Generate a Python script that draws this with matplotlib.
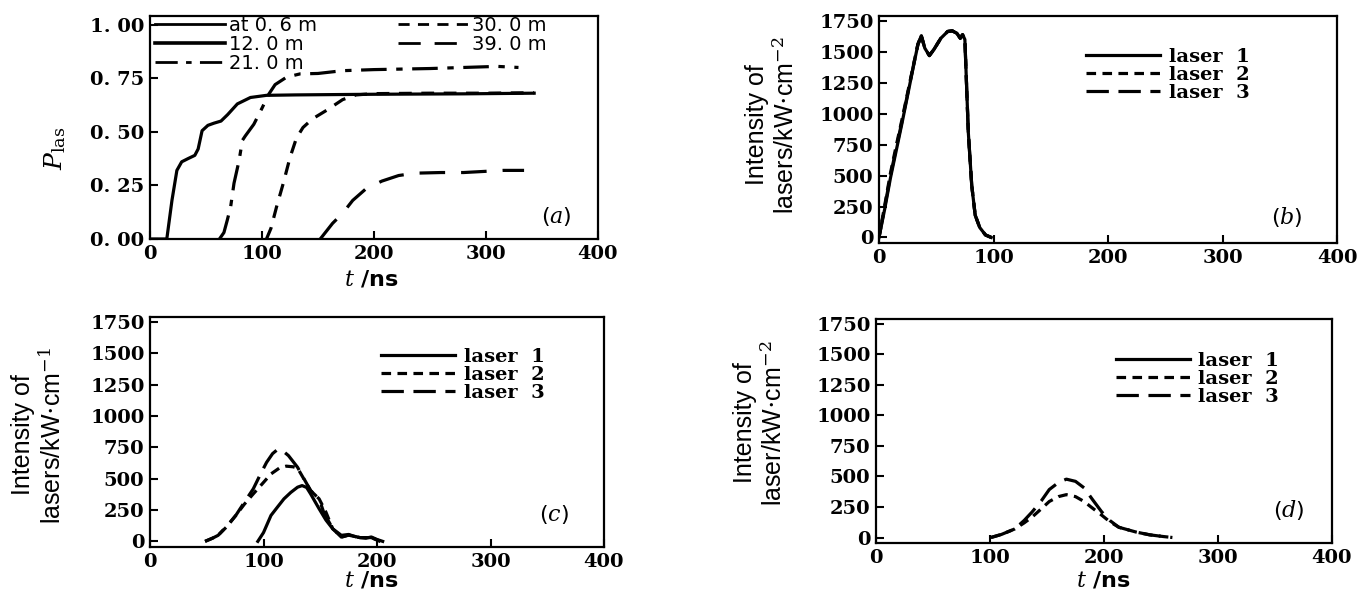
import matplotlib
matplotlib.use("Agg")
import matplotlib.pyplot as plt
from matplotlib.lines import Line2D

plt.rcParams["mathtext.fontset"] = "dejavuserif"

# ---- panel (a): P vs t for several distances ----
t_06 = [0, 15, 19.6, 24, 28.3, 34, 40, 43, 46.5, 51.7, 57, 63.4, 69.3, 78, 89.7, 104, 130, 200, 280, 343]
p_06 = [0, 0, 0.18, 0.32, 0.36, 0.375, 0.39, 0.42, 0.505, 0.53, 0.54, 0.55, 0.58, 0.63, 0.66, 0.67, 0.672, 0.675, 0.677, 0.68]

t_21 = [62, 66, 69, 72, 75, 79.5, 82.5, 85, 92.7, 100, 106, 111.7, 122, 134, 150, 172, 200, 250, 310, 329]
p_21 = [0, 0.03, 0.088, 0.15, 0.26, 0.365, 0.46, 0.48, 0.535, 0.61, 0.675, 0.72, 0.755, 0.77, 0.772, 0.785, 0.79, 0.795, 0.805, 0.8]

t_30 = [104, 108, 113, 119, 125, 130.7, 136.6, 145, 157.6, 172, 184, 200, 250, 300, 343]
p_30 = [0, 0.05, 0.15, 0.26, 0.38, 0.47, 0.52, 0.56, 0.6, 0.65, 0.672, 0.678, 0.68, 0.68, 0.682]

t_39 = [152, 163, 172, 181, 193, 207, 222, 236.6, 260, 280, 315.5, 334]
p_39 = [0, 0.073, 0.12, 0.18, 0.235, 0.27, 0.296, 0.307, 0.31, 0.31, 0.32, 0.32]

p_ticks = [0, 0.25, 0.5, 0.75, 1.0]
p_ticklabels = ["0. 00", "0. 25", "0. 50", "0. 75", "1. 00"]
dist_labels = ["at 0. 6 m", "12. 0 m", "21. 0 m", "30. 0 m", "39. 0 m"]

# ---- panel (b) ----
tb = [0, 5, 10, 15, 20, 25, 30, 34, 37, 40, 44, 48, 54, 60, 64, 68, 71, 73, 75, 76, 78, 81, 84, 88, 93, 98]
b_l1 = [0, 230, 480, 700, 920, 1150, 1380, 1560, 1630, 1530, 1470, 1520, 1610, 1665, 1670, 1650, 1610, 1640, 1600, 1350, 850, 420, 180, 80, 20, 0]
b_l2 = [0, 260, 520, 740, 950, 1170, 1390, 1565, 1630, 1530, 1470, 1520, 1610, 1665, 1670, 1650, 1610, 1640, 1600, 1350, 850, 420, 180, 80, 20, 0]
b_l3 = [0, 245, 500, 720, 935, 1160, 1385, 1560, 1628, 1530, 1470, 1520, 1610, 1665, 1670, 1650, 1610, 1640, 1600, 1350, 850, 420, 180, 80, 20, 0]

# ---- panel (c) ----
tc1 = [95, 100, 106.6, 112, 118, 124, 130, 134, 138, 141.5, 149, 155, 161, 168.6, 175, 180, 185, 190, 195, 200, 205]
c_l1 = [0, 70, 207, 270, 339, 390, 432, 445, 430, 379, 260, 170, 100, 48, 55, 40, 30, 25, 35, 15, 0]
tc2 = [48.5, 55, 60, 68, 75.6, 83, 91, 99, 106.6, 114, 120, 126, 130, 141.5, 149, 155, 161, 168.6, 175, 185, 195, 203]
c_l2 = [0, 25, 48, 120, 207, 295, 379, 460, 538, 585, 600, 595, 585, 405, 339, 233, 100, 34, 50, 30, 30, 0]
tc3 = [48.5, 55, 60, 68, 75.6, 83, 91, 97, 102.7, 108, 112, 117, 122, 130, 141.5, 149, 153, 161, 168.6, 175, 185, 195, 203]
c_l3 = [0, 25, 48, 125, 207, 310, 419, 530, 630, 700, 730, 722, 684, 591, 405, 339, 233, 100, 34, 50, 30, 30, 0]

# ---- panel (d) ---- (laser 1 stays on the baseline, nothing visible)
td1 = []
d_l1 = []
td = [100.8, 110, 121.7, 130, 137, 145, 152, 160, 167, 175, 182.5, 190, 198, 205, 213, 228, 240, 252, 260]
d_l2 = [0, 25, 70, 120, 168, 235, 295, 335, 351, 335, 295, 240, 183, 130, 84, 45, 22, 8, 0]
d_l3 = [0, 25, 70, 140, 210, 300, 393, 450, 478, 460, 407, 310, 210, 140, 84, 45, 22, 8, 0]

i_ticks = [0, 250, 500, 750, 1000, 1250, 1500, 1750]
t_ticks = [0, 100, 200, 300, 400]
laser_names = ["laser  1", "laser  2", "laser  3"]

W, H = 1361, 589
fig = plt.figure(figsize=(W / 100, H / 100), dpi=100)

tick_font = dict(family="DejaVu Serif", weight="bold", size=14)
sans = ["Liberation Sans", "DejaVu Sans"]


def make_ax(left, top, right, bottom):
    ax = fig.add_axes([left / W, 1 - bottom / H, (right - left) / W, (bottom - top) / H])
    for s in ax.spines.values():
        s.set_linewidth(1.6)
    ax.tick_params(direction="in", length=6, width=1.5)
    ax.tick_params(axis="x", pad=4)
    ax.tick_params(axis="y", pad=4)
    ax.set_xlim(0, 400)
    ax.set_xticks(t_ticks)
    ax.set_xticklabels([str(v) for v in t_ticks], fontdict=tick_font)
    return ax


def xlab(x, y):
    fig.text(x / W, 1 - y / H, r"$\mathbf{\mathit{t}}$ /ns", fontsize=16, fontweight="bold",
             family="DejaVu Sans", ha="center", va="center")


def ylab(x, y, s, size=18):
    fig.text(x / W, 1 - y / H, s, rotation=90, ha="center", va="center", family=sans,
             fontsize=size, linespacing=1.2, multialignment="center")


lw = 2.3

# (a)
ax = make_ax(150, 16, 598, 239)
ax.plot(t_06, p_06, color="black", lw=lw)
ax.plot(t_21, p_21, color="black", lw=lw, ls=(0, (8, 3, 2, 3)))
ax.plot(t_30, p_30, color="black", lw=lw, ls=(0, (4, 3)))
ax.plot(t_39, p_39, color="black", lw=lw, ls=(0, (8, 5)))
ax.set_ylim(0, 1.04)
ax.set_yticks(p_ticks)
ax.set_yticklabels(p_ticklabels, fontdict=dict(family="DejaVu Serif", weight="bold", size=14))
fig.text(55 / W, 1 - 148 / H, r"$P_{\mathrm{las}}$", rotation=90, fontsize=18,
         ha="center", va="center")
xlab(371, 279)
ax.text(0.906, 0.099, r"($a$)", transform=ax.transAxes, fontsize=16, ha="center", va="center")
handles = [
    Line2D([], [], color="black", lw=2.0),
    Line2D([], [], color="black", lw=2.6),
    Line2D([], [], color="black", lw=2.0, ls=(0, (8, 3, 2, 3))),
    Line2D([], [], color="black", lw=2.0, ls=(0, (4, 3))),
    Line2D([], [], color="black", lw=2.0, ls=(0, (8, 5))),
]
ax.legend(handles, dist_labels, loc="upper left", bbox_to_anchor=(0.011, 1.0), ncol=2,
          frameon=False, prop=dict(family="DejaVu Sans", size=14), handlelength=3.6,
          handletextpad=0.2, labelspacing=0.0, columnspacing=4.2,
          borderaxespad=0.0, borderpad=0.0)

lstyles = ["-", (0, (3, 2)), (0, (7, 3))]


def laser_panel(ax, series, tag, tag_xy, leg_xy):
    for (tt, vv), st, nm in zip(series, lstyles, laser_names):
        ax.plot(tt, vv, color="black", lw=lw, ls=st, label=nm)
    ax.set_ylim(-45, 1790)
    ax.set_yticks(i_ticks)
    ax.set_yticklabels([str(v) for v in i_ticks], fontdict=tick_font)
    ax.text(tag_xy[0], tag_xy[1], tag, transform=ax.transAxes, fontsize=16,
            ha="center", va="center")
    ax.legend(loc="upper left", bbox_to_anchor=leg_xy, frameon=False,
              prop=dict(family="DejaVu Serif", weight="bold", size=14),
              handlelength=3.8, handletextpad=0.45, labelspacing=0.0,
              borderpad=0.0, borderaxespad=0.0)


# (b)
ax = make_ax(879, 16, 1337, 243)
laser_panel(ax, [(tb, b_l1), (tb, b_l2), (tb, b_l3)], r"($b$)", (0.89, 0.115), (0.452, 0.859))
ylab(772, 125, "Intensity of\nlasers/kW$\\cdot$cm$^{-2}$")

# (c)
ax = make_ax(150, 317, 604, 547)
laser_panel(ax, [(tc1, c_l1), (tc2, c_l2), (tc3, c_l3)], r"($c$)", (0.89, 0.14), (0.509, 0.865))
ylab(38, 435, "Intensity of\nlasers/kW$\\cdot$cm$^{-1}$")
xlab(371, 580)

# (d)
ax = make_ax(876, 319, 1332, 543)
laser_panel(ax, [(td1, d_l1), (td, d_l2), (td, d_l3)], r"($d$)", (0.906, 0.147), (0.526, 0.853))
ylab(760, 423, "Intensity of\nlaser/kW$\\cdot$cm$^{-2}$")
xlab(1103, 580)

fig.savefig("out.png", dpi=100)
